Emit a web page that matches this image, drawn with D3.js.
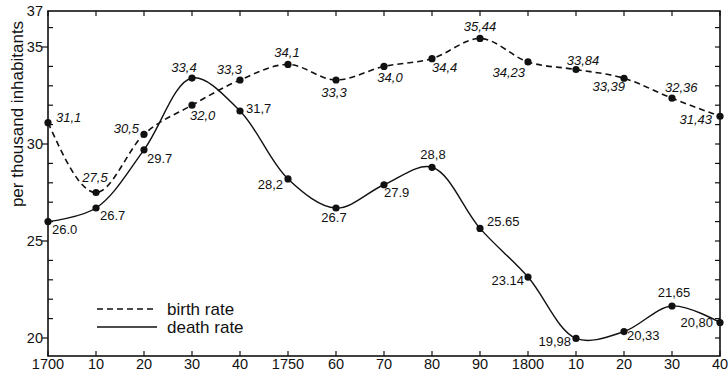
<!DOCTYPE html>
<html lang="en">
<head>
    <meta charset="utf-8" />
    <title>Birth and death rate</title>
    <script src="https://cdn.jsdelivr.net/npm/d3@7/dist/d3.min.js"></script>
    <style>
        body { margin: 0; background: #fff; }
        svg { font-family: "Liberation Sans", Arial, sans-serif; fill: #111; }
    </style>
</head>
<body>
<script>
    // data
    var years = [1700, 1710, 1720, 1730, 1740, 1750, 1760, 1770, 1780, 1790, 1800, 1810, 1820, 1830, 1840];
    var birthRate = [31.1, 27.5, 30.5, 32.0, 33.3, 34.1, 33.3, 34.0, 34.4, 35.44, 34.23, 33.84, 33.39, 32.36, 31.43];
    var deathRate = [26.0, 26.7, 29.7, 33.4, 31.7, 28.2, 26.7, 27.9, 28.8, 25.65, 23.14, 19.98, 20.33, 21.65, 20.80];
    var birthLabels = ["31,1", "27,5", "30,5", "32,0", "33,3", "34,1", "33,3", "34,0", "34,4", "35,44", "34,23", "33,84", "33,39", "32,36", "31,43"];
    var deathLabels = ["26.0", "26.7", "29.7", "33,4", "31,7", "28,2", "26.7", "27.9", "28,8", "25.65", "23.14", "19,98", "20,33", "21,65", "20,80"];
    var xTickLabels = ["1700", "10", "20", "30", "40", "1750", "60", "70", "80", "90", "1800", "10", "20", "30", "40"];
    var yTickLabels = [20, 25, 30, 35, 37];

    // label placement: [anchor, dx, dy, italic]
    var birthPlace = [
        ["start", 8, -1], ["middle", -1, -11], ["end", -5, -1], ["start", -2, 15], ["end", 2, -6],
        ["middle", -1, -7], ["middle", -2, 17], ["middle", 6, 16], ["start", 0, 13], ["middle", 0, -7],
        ["end", -3, 15], ["middle", 7, -5], ["end", 1, 13], ["start", -7, -6], ["end", -8, 8]
    ];
    var deathPlace = [
        ["start", 4, 12], ["start", 4, 12], ["start", 3, 13], ["middle", -8, -6, true], ["start", 6, 2],
        ["end", -5, 10], ["middle", -2, 14], ["start", 0, 12], ["middle", 1, -8], ["start", 7, -2],
        ["end", -4, 8], ["end", -5, 8], ["start", 3, 8], ["middle", 2, -9], ["end", -7, 5]
    ];

    var w = 728, h = 373;
    var plotLeft = 48, plotRight = 720, plotTop = 11, plotBottom = 356;

    var xScale = d3.scaleLinear().domain([1700, 1840]).range([plotLeft, plotRight]);
    var yScale = d3.scaleLinear().domain([20, 30]).range([338, 144]);

    var svg = d3.select("body").append("svg")
        .attr("width", w)
        .attr("height", h);

    // frame
    svg.append("rect")
        .attr("x", plotLeft).attr("y", plotTop)
        .attr("width", plotRight - plotLeft).attr("height", plotBottom - plotTop)
        .attr("fill", "none").attr("stroke", "#111").attr("stroke-width", 1.6);

    // x ticks top and bottom
    var xt = svg.append("g").attr("stroke", "#111").attr("stroke-width", 1.2);
    years.forEach(function(y) {
        xt.append("line").attr("x1", xScale(y)).attr("x2", xScale(y)).attr("y1", plotBottom).attr("y2", plotBottom - 5);
        xt.append("line").attr("x1", xScale(y)).attr("x2", xScale(y)).attr("y1", plotTop).attr("y2", plotTop + 5);
    });
    svg.append("g").selectAll("text")
        .data(xTickLabels)
        .enter()
        .append("text")
        .attr("x", function(d, i) { return xScale(years[i]); })
        .attr("y", 369)
        .attr("text-anchor", "middle")
        .attr("font-size", "14.5px")
        .text(function(d) { return d; });

    // y ticks: every unit; labelled ones point outwards
    var yt = svg.append("g").attr("stroke", "#111").attr("stroke-width", 1.2);
    d3.range(20, 37).forEach(function(v) {
        var major = yTickLabels.indexOf(v) >= 0;
        yt.append("line").attr("x1", plotLeft).attr("x2", major ? plotLeft - 6 : plotLeft + 5)
            .attr("y1", yScale(v)).attr("y2", yScale(v));
        yt.append("line").attr("x1", plotRight).attr("x2", plotRight - 5)
            .attr("y1", yScale(v)).attr("y2", yScale(v));
    });
    svg.append("g").selectAll("text")
        .data(yTickLabels)
        .enter()
        .append("text")
        .attr("x", plotLeft - 5)
        .attr("y", function(d) { return (d === 37 ? plotTop : yScale(d)) + 5; })
        .attr("text-anchor", "end")
        .attr("font-size", "14.5px")
        .text(function(d) { return d; });

    svg.append("text")
        .attr("transform", "translate(23,114) rotate(-90)")
        .attr("text-anchor", "middle")
        .attr("font-size", "17px")
        .text("per thousand inhabitants");

    // lines
    var birthLine = d3.line()
        .x(function(d, i) { return xScale(years[i]); })
        .y(function(d) { return yScale(d); })
        .curve(d3.curveMonotoneX);
    var deathLine = d3.line()
        .x(function(d, i) { return xScale(years[i]); })
        .y(function(d) { return yScale(d); })
        .curve(d3.curveCatmullRom);

    svg.append("path").datum(birthRate)
        .attr("d", birthLine)
        .attr("fill", "none").attr("stroke", "#111")
        .attr("stroke-width", 1.6).attr("stroke-dasharray", "6,4");
    svg.append("path").datum(deathRate)
        .attr("d", deathLine)
        .attr("fill", "none").attr("stroke", "#111")
        .attr("stroke-width", 1.4);

    function drawSeries(values, labels, place, italic) {
        var g = svg.append("g");
        g.selectAll("circle")
            .data(values)
            .enter()
            .append("circle")
            .attr("cx", function(d, i) { return xScale(years[i]); })
            .attr("cy", function(d) { return yScale(d); })
            .attr("r", 3.6)
            .attr("fill", "#111");
        g.selectAll("text")
            .data(values)
            .enter()
            .append("text")
            .attr("x", function(d, i) { return xScale(years[i]) + place[i][1]; })
            .attr("y", function(d, i) { return yScale(d) + place[i][2]; })
            .attr("text-anchor", function(d, i) { return place[i][0]; })
            .attr("font-size", "13px")
            .attr("font-style", function(d, i) { return (italic || place[i][3]) ? "italic" : "normal"; })
            .text(function(d, i) { return labels[i]; });
    }
    drawSeries(birthRate, birthLabels, birthPlace, true);
    drawSeries(deathRate, deathLabels, deathPlace, false);

    // legend
    var lg = svg.append("g");
    lg.append("line").attr("x1", 97).attr("x2", 157).attr("y1", 309).attr("y2", 309)
        .attr("stroke", "#111").attr("stroke-width", 1.6).attr("stroke-dasharray", "6,4");
    lg.append("line").attr("x1", 97).attr("x2", 157).attr("y1", 327).attr("y2", 327)
        .attr("stroke", "#111").attr("stroke-width", 1.6);
    lg.append("text").attr("x", 167).attr("y", 315).attr("font-size", "17px").text("birth rate");
    lg.append("text").attr("x", 167).attr("y", 333).attr("font-size", "17px").text("death rate");
</script>
</body>
</html>
